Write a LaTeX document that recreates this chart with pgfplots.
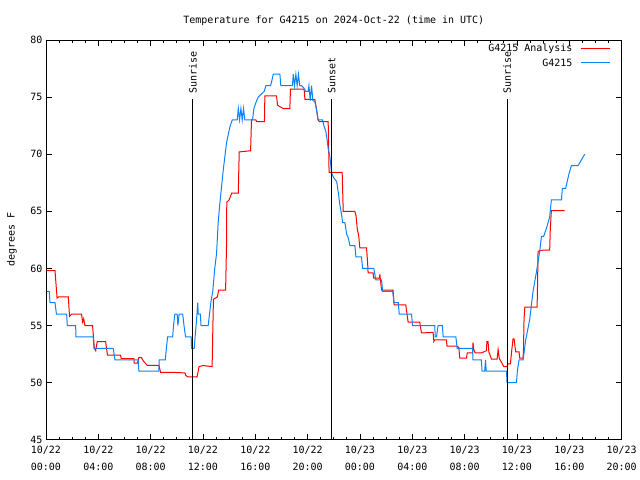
\documentclass[border=0pt]{standalone}
\usepackage{fontspec}
\setmainfont{DejaVu Sans Mono}
\usepackage{pgfplots}
\pgfplotsset{compat=1.18}
\definecolor{anared}{RGB}{255,0,0}
\definecolor{obsblue}{RGB}{10,130,250}
\begin{document}
\fontsize{10bp}{14bp}\selectfont
\begin{tikzpicture}
\begin{axis}[
  scale only axis, width=576bp, height=400bp,
  xmin=0, xmax=44, ymin=45, ymax=80,
  xtick={0,4,...,44},
  xticklabels={{10/22\\00:00},{10/22\\04:00},{10/22\\08:00},{10/22\\12:00},{10/22\\16:00},{10/22\\20:00},{10/23\\00:00},{10/23\\04:00},{10/23\\08:00},{10/23\\12:00},{10/23\\16:00},{10/23\\20:00}},
  minor x tick num=3,
  ytick={45,50,...,80},
  tick align=inside,
  major tick length=6bp, minor tick length=3bp,
  every tick/.style={black, line width=0.8bp},
  axis line style={line width=0.9bp},
  xticklabel style={align=center, font=\fontsize{10bp}{17bp}\selectfont, yshift=-3bp},
  yticklabel style={font=\fontsize{10bp}{14bp}\selectfont},
  /pgf/number format/assume math mode=true,
  ylabel={degrees F},
  ylabel style={at={(axis description cs:-0.059,0.5)}, anchor=center},
  every axis title shift=0pt,
  title={Temperature for G4215 on 2024-Oct-22 (time in UTC)},
  title style={at={(axis description cs:0.5,1.047)}, anchor=center},
]
\addplot[color=anared, line width=1bp] coordinates {
(0.05,59.8)(0.69,59.8)(0.85,57.4)(0.95,57.5)(1.71,57.5)(1.8,55.8)(1.96,56.0)(2.72,56.0)(2.8,55.3)(2.88,55.6)(2.98,55.0)(3.56,55.0)(3.7,53.0)(3.8,52.8)(3.92,53.6)(4.56,53.6)(4.7,52.4)(5.7,52.4)(5.75,52.1)(6.72,52.1)(6.75,51.7)(7.0,51.7)(7.1,52.2)(7.3,52.2)(7.44,51.9)(7.6,51.7)(7.74,51.5)(8.63,51.5)(8.76,50.9)(9.68,50.9)(10.62,50.85)(10.7,50.6)(10.87,50.5)(11.55,50.5)(11.7,51.4)(12.0,51.5)(12.7,51.4)(12.75,54.5)(12.8,57.3)(13.1,57.5)(13.2,58.1)(13.73,58.1)(13.8,62.0)(13.82,65.8)(14.0,66.0)(14.2,66.6)(14.7,66.6)(14.77,70.2)(15.64,70.3)(15.71,73.0)(16.04,73.0)(16.1,72.85)(16.7,72.85)(16.73,75.1)(17.62,75.1)(17.7,74.3)(17.82,74.2)(18.13,74.0)(18.64,74.0)(18.69,75.7)(19.71,75.7)(19.75,75.5)(19.79,74.8)(20.55,74.8)(20.68,73.9)(20.8,73.0)(20.9,72.85)(21.57,72.85)(21.64,68.4)(22.64,68.4)(22.72,65.0)(23.61,65.0)(23.7,64.6)(23.8,63.4)(23.9,62.9)(23.99,61.8)(24.5,61.8)(24.58,60.6)(24.62,59.6)(25.0,59.6)(25.05,59.15)(25.5,59.15)(25.52,59.5)(25.55,59.15)(25.65,58.1)(26.53,58.1)(26.61,56.8)(27.5,56.8)(27.68,55.3)(28.57,55.3)(28.7,54.35)(29.59,54.4)(29.65,53.6)(29.72,53.75)(30.61,53.75)(30.65,53.2)(31.37,53.2)(31.55,53.1)(31.63,52.15)(32.14,52.15)(32.2,52.6)(32.6,52.6)(32.64,53.5)(32.7,52.9)(32.8,52.6)(33.28,52.6)(33.67,52.8)(33.7,53.6)(33.79,53.6)(33.85,52.7)(34.05,52.06)(34.48,52.06)(34.56,52.9)(34.65,52.1)(34.81,51.8)(34.99,51.4)(35.24,51.4)(35.3,51.65)(35.5,51.65)(35.58,52.6)(35.7,53.84)(35.78,53.84)(35.9,52.7)(36.16,52.7)(36.21,52.15)(36.47,52.15)(36.5,53.0)(36.54,55.5)(36.6,56.6)(37.54,56.6)(37.58,59.0)(37.61,61.5)(38.0,61.6)(38.5,61.6)(38.55,63.5)(38.63,65.07)(39.65,65.07)
};
\addplot[color=obsblue, line width=1bp] coordinates {
(0.05,58)(0.25,58)(0.31,57)(0.69,57)(0.8,56)(1.58,56)(1.63,55)(2.27,55)(2.29,54)(3.61,54)(3.67,53)(5.14,53)(5.27,52)(7.05,52)(7.1,51)(8.63,51)(8.66,52)(9.12,52)(9.2,53)(9.3,54)(9.68,54)(9.75,55)(9.85,56)(10.03,56)(10.08,55)(10.13,55.5)(10.18,56)(10.45,56)(10.55,55)(10.67,54)(11.1,54)(11.13,53)(11.33,53)(11.4,54)(11.51,55.5)(11.6,57)(11.64,56)(11.8,56)(11.85,55)(12.4,55)(12.5,56)(12.6,57)(12.75,58)(12.9,60)(13.04,61.3)(13.16,64)(13.29,65.7)(13.55,68.6)(13.8,71)(14.06,72.4)(14.24,73)(14.62,73)(14.7,74)(14.8,73)(14.9,74)(15.0,73)(15.1,74)(15.2,73)(15.79,73)(15.89,74)(16.04,74.5)(16.22,75)(16.68,75.5)(16.81,76)(17.16,76)(17.25,76.35)(17.37,77)(17.88,77)(17.95,76)(18.84,76)(18.9,77)(19.0,76)(19.1,77)(19.2,76)(19.3,77)(19.4,76)(19.53,76)(19.71,75.8)(19.86,75.5)(20.04,75.5)(20.1,76)(20.2,74.7)(20.3,76)(20.4,74.7)(20.55,74.6)(20.68,73.9)(20.8,73)(21.14,73)(21.24,72.5)(21.39,72)(21.49,71.25)(21.57,70.5)(21.7,69.8)(21.83,68.4)(21.96,68.0)(22.22,67.6)(22.35,66.6)(22.47,65.5)(22.6,64.7)(22.67,64)(22.85,64)(22.98,63)(23.1,62.7)(23.23,62)(23.61,62)(23.69,61)(24.12,61)(24.2,60)(25.06,60)(25.21,59)(25.65,59)(25.73,58)(26.5,58)(26.6,57)(26.93,57)(27.0,56)(27.94,56)(28.02,55)(29.72,55)(29.75,54)(29.85,54)(29.97,55)(30.3,55)(30.36,54)(31.33,54)(31.43,53)(32.6,53)(32.64,52)(33.28,52)(33.33,51)(33.53,51)(33.6,52)(33.65,51)(35.2,51)(35.24,50)(35.96,50)(36.03,51)(36.16,52)(36.47,52)(36.67,53.75)(36.97,55.5)(37.23,58)(37.49,59.7)(37.74,61.5)(37.87,62.8)(38.04,62.8)(38.25,63.5)(38.5,64.5)(38.63,66)(39.4,66)(39.47,67)(39.72,67)(39.98,68.3)(40.16,69)(40.67,69)(41.18,70)
};
\addplot[black, line width=1bp, forget plot] coordinates {(11.23,74.8)(11.23,45)};
\addplot[black, line width=1bp, forget plot] coordinates {(21.85,74.8)(21.85,45)};
\addplot[black, line width=1bp, forget plot] coordinates {(35.24,74.8)(35.24,45)};
\node[rotate=90, anchor=west, inner sep=1bp] at (axis cs:11.23,75.2) {Sunrise};
\node[rotate=90, anchor=west, inner sep=1bp] at (axis cs:21.85,75.2) {Sunset};
\node[rotate=90, anchor=west, inner sep=1bp] at (axis cs:35.24,75.2) {Sunrise};
% legend
\node[anchor=east, inner sep=0pt] at (axis description cs:0.915,0.9775) {G4215 Analysis};
\node[anchor=east, inner sep=0pt] at (axis description cs:0.915,0.9425) {G4215};
\draw[anared, line width=1bp] (axis description cs:0.929,0.9775) -- (axis description cs:0.979,0.9775);
\draw[obsblue, line width=1bp] (axis description cs:0.929,0.9425) -- (axis description cs:0.979,0.9425);
\end{axis}
\path (current axis.south west) ++(-46bp,-40bp) rectangle ++(640bp,480bp);
\end{tikzpicture}
\end{document}
